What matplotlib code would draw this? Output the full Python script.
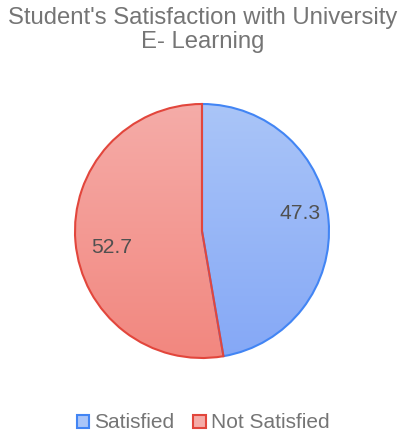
import numpy as np
import matplotlib.pyplot as plt
from matplotlib.colors import LinearSegmentedColormap
from matplotlib.patches import Rectangle

plt.rcParams['font.family'] = ['Liberation Sans', 'DejaVu Sans']

# dados
labels = ["Satisfied", "Not Satisfied"]
values = [47.3, 52.7]
title = "Student's Satisfaction with University\nE- Learning"

edge_cols = ["#4285f4", "#e2463c"]
top_cols = ["#aac5f8", "#f5aca8"]
bot_cols = ["#85a8f6", "#f2877f"]

fig = plt.figure(figsize=(4.06, 4.43), dpi=100)
ax = fig.add_axes([0, 0, 1, 1])

cx, cy, r = 202, 443 - 231, 127
wedges, texts, autotexts = ax.pie(values, center=(cx, cy), radius=r, startangle=90,
                                  counterclock=False, autopct=lambda p: "%.1f" % p,
                                  frame=True, wedgeprops=dict(linewidth=1.5),
                                  textprops=dict(fontsize=15.2, color="#505050"))
ax.set_xlim(0, 406)
ax.set_ylim(0, 443)
ax.set_aspect("equal")
ax.axis("off")

for i, w in enumerate(wedges):
    w.set_facecolor("none")
    w.set_edgecolor(edge_cols[i])
    w.set_zorder(3)
    cmap = LinearSegmentedColormap.from_list("g%d" % i, [top_cols[i], bot_cols[i]])
    grad = np.linspace(0, 1, 256).reshape(-1, 1)
    im = ax.imshow(grad, cmap=cmap, extent=(cx - r, cx + r, cy - r, cy + r),
                   origin="upper", aspect="auto", zorder=2)
    im.set_clip_path(w)

# posicao dos rotulos (como no google charts)
pos = [(0.785, 10.4), (0.72, 190.7)]
for t, (d, a) in zip(autotexts, pos):
    t.set_zorder(4)
    t.set_position((cx + d * r * np.cos(np.radians(a)), cy + d * r * np.sin(np.radians(a))))
ax.set_xlim(0, 406)
ax.set_ylim(0, 443)

fig.text(0.5, 1 - 30 / 443, title, ha="center", va="center", fontsize=17.2,
         color="#757575", linespacing=1.1)

# legenda
handles = [Rectangle((0, 0), 1, 1, facecolor=top_cols[i], edgecolor=edge_cols[i], linewidth=1.5)
           for i in range(2)]
fig.legend(handles, labels, loc="center", bbox_to_anchor=(0.5, 1 - 423 / 443), ncol=2,
           frameon=False, fontsize=15, labelcolor="#757575", handlelength=0.6,
           handleheight=0.6, handletextpad=0.25, columnspacing=0.9)

fig.savefig("out.png", dpi=100)
